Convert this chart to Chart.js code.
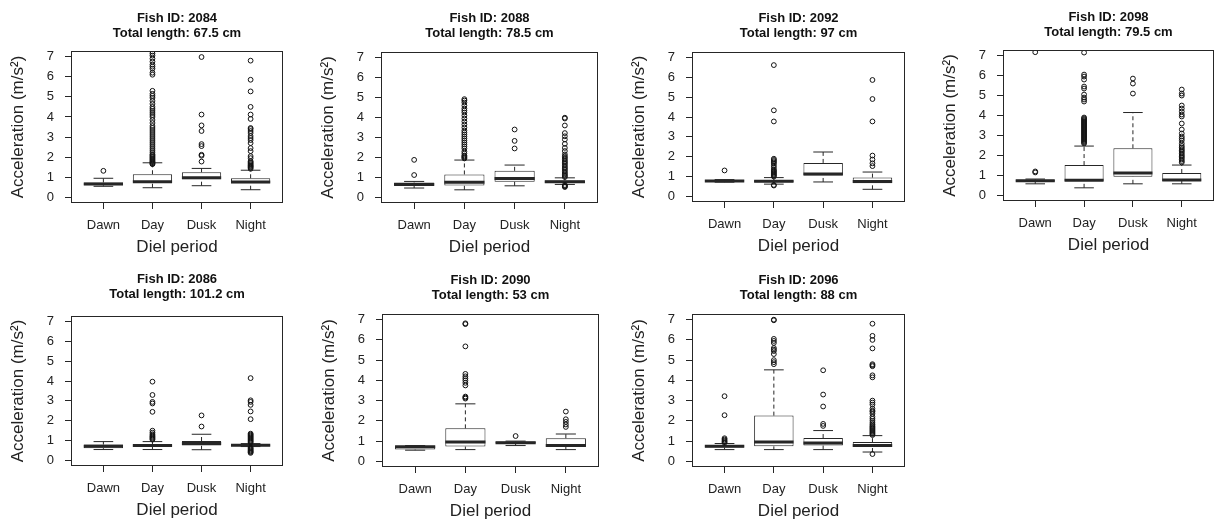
<!DOCTYPE html>
<html>
<head>
<meta charset="utf-8">
<script src="https://cdn.jsdelivr.net/npm/chart.js@4.4.1/dist/chart.umd.min.js"></script>
<style>
  body { margin: 0; background: #fff; }
  #wrap { position: relative; width: 1219px; height: 521px; overflow: hidden; background: #fff; }
  canvas { position: absolute; }
</style>
</head>
<body>
<div id="wrap"></div>
<script>
/* datos del grafico */
const categories = ['Dawn', 'Day', 'Dusk', 'Night'];
const fishIds = ['2084', '2088', '2092', '2098', '2086', '2090', '2096'];
const totalLengths = ['67.5', '78.5', '97', '79.5', '101.2', '53', '88'];
const yTicks = [0, 1, 2, 3, 4, 5, 6, 7];

// estadisticos de cada caja (un arreglo por pez, orden Dawn, Day, Dusk, Night)
const lowerWhisker = [
  [0.55, 0.48, 0.58, 0.38],
  [0.47, 0.38, 0.58, 0.65],
  [0.72, 0.62, 0.73, 0.36],
  [0.58, 0.38, 0.58, 0.58],
  [0.55, 0.55, 0.54, 0.70],
  [0.55, 0.58, 0.78, 0.58],
  [0.58, 0.58, 0.58, 0.46]
];
const q1 = [
  [0.60, 0.75, 0.90, 0.70],
  [0.60, 0.60, 0.78, 0.72],
  [0.75, 0.72, 1.06, 0.66],
  [0.68, 0.72, 0.94, 0.72],
  [0.62, 0.68, 0.75, 0.72],
  [0.58, 0.73, 0.88, 0.72],
  [0.68, 0.74, 0.78, 0.72]
];
const median = [
  [0.66, 0.78, 0.97, 0.76],
  [0.65, 0.76, 0.95, 0.78],
  [0.78, 0.76, 1.13, 0.75],
  [0.73, 0.76, 1.12, 0.77],
  [0.72, 0.75, 0.85, 0.77],
  [0.72, 0.96, 0.92, 0.78],
  [0.74, 0.96, 0.90, 0.78]
];
const q3 = [
  [0.74, 1.15, 1.25, 0.95],
  [0.75, 1.15, 1.33, 0.85],
  [0.82, 0.82, 1.69, 0.95],
  [0.79, 1.52, 2.36, 1.12],
  [0.80, 0.82, 0.98, 0.80],
  [0.75, 1.63, 0.98, 1.14],
  [0.80, 2.26, 1.15, 0.95]
];
const upperWhisker = [
  [0.95, 1.72, 1.44, 1.35],
  [0.80, 1.87, 1.62, 0.98],
  [0.85, 0.95, 2.24, 1.23],
  [0.82, 2.47, 4.15, 1.52],
  [0.95, 0.95, 1.32, 0.85],
  [0.78, 2.84, 1.00, 1.35],
  [0.88, 4.52, 1.52, 1.27]
];

// valores atipicos
const outliers2084 = [
  [1.32],
  [1.65, 1.68, 1.72, 1.76, 1.8, 1.85, 1.9, 1.95, 2.0, 2.05, 2.1, 2.15, 2.25, 2.35, 2.45, 2.55, 2.65, 2.75, 2.85, 2.95,
   3.05, 3.15, 3.25, 3.35, 3.45, 3.55, 3.7, 3.85, 4.0, 4.1, 4.2, 4.3, 4.4, 4.5, 4.65, 4.8, 4.95, 5.05, 5.15, 5.3,
   6.1, 6.2, 6.4, 6.5, 6.6, 6.75, 6.9, 7.05, 7.15, 7.25],
  [1.78, 2.07, 2.12, 2.55, 2.65, 3.3, 3.58, 4.12, 6.98],
  [1.42, 1.48, 1.52, 1.56, 1.6, 1.65, 1.7, 1.75, 1.8, 1.95, 2.05, 2.3, 2.45, 2.7, 2.85, 2.95, 3.05, 3.2, 3.3, 3.4,
   3.45, 3.9, 4.12, 4.5, 5.27, 5.85, 6.8]
];
const outliers2088 = [
  [1.12, 1.88],
  [1.95, 2.0, 2.05, 2.1, 2.2, 2.3, 2.45, 2.55, 2.65, 2.75, 2.85, 2.95, 3.05, 3.15, 3.25, 3.35, 3.5, 3.65, 3.8, 3.95,
   4.1, 4.25, 4.35, 4.45, 4.6, 4.75, 4.85, 4.92],
  [2.45, 2.83, 3.4],
  [0.52, 0.55, 0.58, 0.62, 1.02, 1.08, 1.15, 1.22, 1.3, 1.38, 1.45, 1.52, 1.6, 1.68, 1.75, 1.82, 1.9, 1.98, 2.05, 2.15,
   2.32, 2.48, 2.68, 2.9, 3.06, 3.22, 3.6, 3.95, 3.99]
];
const outliers2092 = [
  [1.31],
  [0.55, 0.58, 1.0, 1.05, 1.1, 1.15, 1.2, 1.25, 1.3, 1.35, 1.45, 1.55, 1.65, 1.72, 1.78, 1.84, 1.9, 3.78, 4.34, 6.62],
  [],
  [1.53, 1.67, 1.86, 2.06, 3.78, 4.91, 5.87]
];
const outliers2098 = [
  [1.15, 1.2, 7.17],
  [2.6, 2.65, 2.7, 2.75, 2.8, 2.85, 2.9, 2.95, 3.0, 3.05, 3.1, 3.15, 3.2, 3.25, 3.3, 3.35, 3.4, 3.45, 3.5, 3.55,
   3.6, 3.65, 3.7, 3.75, 3.8, 3.85, 3.9, 4.7, 4.8, 4.9, 5.05, 5.35, 5.45, 5.8, 5.95, 6.05, 7.15],
  [5.1, 5.6, 5.85],
  [1.65, 1.72, 1.8, 1.88, 1.95, 2.02, 2.1, 2.18, 2.25, 2.32, 2.4, 2.48, 2.6, 2.75, 2.85, 2.95, 3.1, 3.3, 3.6, 3.95,
   4.05, 4.2, 4.35, 4.5, 5.0, 5.1, 5.3]
];
const outliers2086 = [
  [],
  [1.05, 1.1, 1.15, 1.2, 1.25, 1.32, 1.4, 1.5, 2.45, 2.87, 2.95, 3.3, 3.97],
  [1.71, 2.27],
  [0.38, 0.42, 0.46, 0.5, 0.55, 0.6, 0.65, 0.9, 0.95, 1.0, 1.05, 1.1, 1.15, 1.2, 1.25, 1.3, 1.35, 2.08, 2.47, 2.8,
   2.95, 3.03, 4.15]
];
const outliers2090 = [
  [],
  [3.1, 3.15, 3.2, 3.75, 3.88, 4.0, 4.1, 4.2, 4.32, 5.68, 6.78, 6.82],
  [1.25],
  [1.7, 1.82, 1.95, 2.08, 2.46]
];
const outliers2096 = [
  [0.92, 0.97, 1.02, 1.08, 1.14, 2.28, 3.22],
  [4.8, 4.9, 5.0, 5.3, 5.45, 5.52, 5.6, 5.85, 5.95, 6.05, 6.97, 7.0],
  [1.75, 1.85, 2.71, 3.3, 4.5],
  [0.36, 1.3, 1.35, 1.4, 1.45, 1.5, 1.55, 1.6, 1.65, 1.7, 1.75, 1.82, 1.9, 2.0, 2.1, 2.2, 2.35, 2.45, 2.5, 2.6,
   2.8, 2.9, 3.0, 4.15, 4.25, 4.7, 4.75, 4.8, 5.58, 6.0, 6.2, 6.8]
];
const outliers = [outliers2084, outliers2088, outliers2092, outliers2098, outliers2086, outliers2090, outliers2096];

/* posicion de cada panel (area del grafico en la pagina) */
const panels = [
  { left: 71,   right: 286,  top: 51,  bottom: 203, titleY: 18.5 },
  { left: 381,  right: 601,  top: 52,  bottom: 203, titleY: 18.5 },
  { left: 692,  right: 908,  top: 52,  bottom: 202, titleY: 18.5 },
  { left: 1003, right: 1217, top: 50,  bottom: 201, titleY: 17 },
  { left: 71,   right: 286,  top: 316, bottom: 466, titleY: 279 },
  { left: 382,  right: 602,  top: 314, bottom: 467, titleY: 280 },
  { left: 692,  right: 908,  top: 314, bottom: 467, titleY: 280 }
];

const EJE_Y = 71;     // ancho del eje y
const EJE_X = 58;     // alto del eje x
const TITULO = 51;    // alto del titulo
const MEDIA_CAJA = 0.4;
const MEDIA_BIGOTE = 0.2;
const COLOR = '#262626';

Chart.defaults.font.family = "'Liberation Sans', Arial, sans-serif";
Chart.defaults.color = '#222';

// dibuja el marco alrededor del area del grafico
const marco = {
  id: 'marco',
  afterDatasetsDraw(chart) {
    const { ctx, chartArea: a } = chart;
    ctx.save();
    ctx.strokeStyle = COLOR;
    ctx.lineWidth = 1;
    ctx.strokeRect(Math.round(a.left) + 0.5, Math.round(a.top) + 0.5,
      Math.round(a.right - a.left) - 1, Math.round(a.bottom - a.top) - 1);
    ctx.restore();
  }
};

function datosPanel(p) {
  const cajas = [];
  const bigotes = [];
  const topes = [];
  const medianas = [];
  const puntos = [];

  categories.forEach((c, i) => {
    const x = i + 1;
    cajas.push({ x, y: [q1[p][i], q3[p][i]] });
    bigotes.push({ x, y: q3[p][i] }, { x, y: upperWhisker[p][i] }, { x, y: null });
    bigotes.push({ x, y: lowerWhisker[p][i] }, { x, y: q1[p][i] }, { x, y: null });
    topes.push({ x: x - MEDIA_BIGOTE, y: upperWhisker[p][i] }, { x: x + MEDIA_BIGOTE, y: upperWhisker[p][i] }, { x, y: null });
    topes.push({ x: x - MEDIA_BIGOTE, y: lowerWhisker[p][i] }, { x: x + MEDIA_BIGOTE, y: lowerWhisker[p][i] }, { x, y: null });
    medianas.push({ x: x - MEDIA_CAJA, y: median[p][i] }, { x: x + MEDIA_CAJA, y: median[p][i] }, { x, y: null });
    outliers[p][i].forEach((v) => puntos.push({ x, y: v }));
  });

  const linea = {
    type: 'line', borderColor: COLOR, borderWidth: 1, pointRadius: 0,
    spanGaps: false, fill: false, tension: 0
  };

  return [
    { ...linea, data: bigotes, borderDash: [4, 3], order: 5 },
    {
      type: 'bar', data: cajas, backgroundColor: '#fff', borderColor: COLOR, borderWidth: 1,
      borderSkipped: false, barPercentage: 1, categoryPercentage: 0.8, order: 4
    },
    { ...linea, data: topes, order: 2 },
    { ...linea, data: medianas, borderWidth: 3, borderCapStyle: 'butt', order: 1 },
    {
      type: 'line', data: puntos, showLine: false, pointRadius: 2.4, pointBorderWidth: 1,
      pointBackgroundColor: 'rgba(0,0,0,0)', pointBorderColor: '#111', order: 0
    }
  ];
}

function crearPanel(p) {
  const caja = panels[p];
  const canvas = document.createElement('canvas');
  const ancho = caja.right - caja.left + EJE_Y + 2;
  const alto = caja.bottom - caja.top + TITULO + EJE_X;
  const arriba = caja.top - TITULO;
  canvas.width = ancho;
  canvas.height = alto;
  canvas.style.left = (caja.left - EJE_Y) + 'px';
  canvas.style.top = arriba + 'px';
  document.getElementById('wrap').appendChild(canvas);

  const padTitulo = caja.titleY - 7.5 - arriba;

  new Chart(canvas, {
    type: 'bar',
    data: { datasets: datosPanel(p) },
    options: {
      responsive: false,
      animation: false,
      events: [],
      layout: { padding: { right: 2 } },
      plugins: {
        legend: { display: false },
        tooltip: { enabled: false },
        title: {
          display: true,
          fullSize: false,
          text: ['Fish ID: ' + fishIds[p], 'Total length: ' + totalLengths[p] + ' cm'],
          font: { size: 13, weight: 'bold', lineHeight: 15 / 13 },
          color: '#111',
          padding: { top: padTitulo, bottom: TITULO - 30 - padTitulo }
        }
      },
      scales: {
        x: {
          type: 'linear',
          min: 0.34,
          max: 4.66,
          offset: false,
          afterFit: (s) => { s.height = EJE_X; },
          border: { display: false },
          grid: { drawOnChartArea: false, drawTicks: true, tickLength: 6, color: COLOR, offset: false },
          ticks: {
            stepSize: 1, includeBounds: false, padding: 9, autoSkip: false, maxRotation: 0,
            font: { size: 13 },
            callback: (v) => categories[Math.round(v) - 1]
          },
          title: { display: true, text: 'Diel period', font: { size: 17 }, padding: { bottom: 3 } }
        },
        y: {
          type: 'linear',
          min: -0.28,
          max: 7.28,
          afterFit: (s) => { s.width = EJE_Y; },
          afterBuildTicks: (s) => { s.ticks = yTicks.map((v) => ({ value: v })); },
          border: { display: false },
          grid: { drawOnChartArea: false, drawTicks: true, tickLength: 6, color: COLOR },
          ticks: { padding: 11, font: { size: 13 } },
          title: { display: true, text: 'Acceleration (m/s²)', font: { size: 17 }, padding: { top: 8 } }
        }
      }
    },
    plugins: [marco]
  });
}

panels.forEach((c, i) => crearPanel(i));
</script>
</body>
</html>
